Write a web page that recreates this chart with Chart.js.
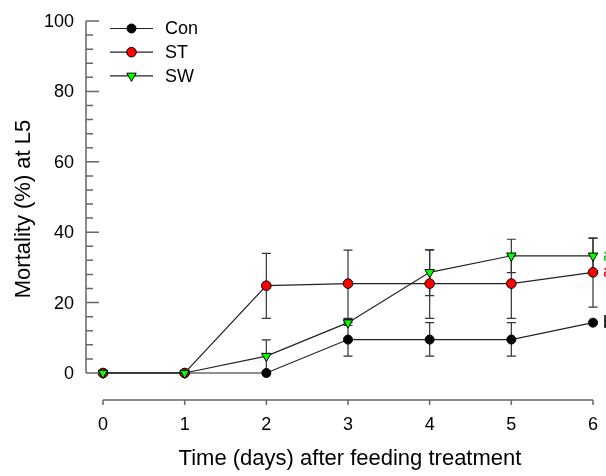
<!DOCTYPE html>
<html>
<head>
<meta charset="utf-8">
<script src="https://cdn.jsdelivr.net/npm/chart.js@4.4.0/dist/chart.umd.min.js"></script>
<style>
  body { margin: 0; background: #fff; }
  #wrap { width: 606px; height: 476px; position: relative; }
</style>
</head>
<body>
<div id="wrap"><canvas id="grafico"></canvas></div>
<script>
// Datos
const dias = [0, 1, 2, 3, 4, 5, 6];
const xTicks = [0, 1, 2, 3, 4, 5, 6];
const yTicks = [0, 20, 40, 60, 80, 100];

const con = [0, 0, 0, 9.5, 9.5, 9.5, 14.3];
const conBajo = [0, 0, 0, 4.8, 4.8, 4.8, 14.3];
const conAlto = [0, 0, 0, 14.3, 14.3, 14.3, 14.3];

const st = [0, 0, 24.8, 25.4, 25.4, 25.4, 28.6];
const stBajo = [0, 0, 15.5, 15.5, 15.5, 15.5, 18.7];
const stAlto = [0, 0, 34, 34.9, 35, 33.3, 38.3];

const sw = [0, 0, 4.8, 14.3, 28.6, 33.3, 33.3];
const swBajo = [0, 0, 0, 13.5, 22, 28.5, 28.5];
const swAlto = [0, 0, 9.4, 15.2, 35, 38, 38.3];

// letras de significancia (cortadas en el borde derecho)
const letras = ["b", "a", "a"];

const fuente = "Arial, 'Liberation Sans', sans-serif";

function puntos(valores) {
  return dias.map((d, i) => ({ x: d, y: valores[i] }));
}

const series = [
  { label: "Con", data: con, bajo: conBajo, alto: conAlto, color: "#000000", estilo: "circle", rot: 0, radio: 4.5, letraColor: "#000000", orden: 2 },
  { label: "ST", data: st, bajo: stBajo, alto: stAlto, color: "#ff0000", estilo: "circle", rot: 0, radio: 4.8, letraColor: "#ff0000", orden: 1 },
  { label: "SW", data: sw, bajo: swBajo, alto: swAlto, color: "#00ff00", estilo: "triangle", rot: 180, radio: 5.5, letraColor: "#00cc00", orden: 0 },
];

// Barras de error
const barrasError = {
  id: "barrasError",
  beforeDatasetsDraw(chart) {
    const { ctx, scales: { x, y } } = chart;
    ctx.save();
    ctx.strokeStyle = "#333";
    ctx.lineWidth = 1.2;
    series.forEach((s) => {
      dias.forEach((d, i) => {
        if (s.alto[i] === s.bajo[i]) return;
        const px = x.getPixelForValue(d);
        const y1 = y.getPixelForValue(s.alto[i]);
        const y2 = y.getPixelForValue(s.bajo[i]);
        ctx.beginPath();
        ctx.moveTo(px, y1); ctx.lineTo(px, y2);
        if (s.alto[i] !== s.data[i]) { ctx.moveTo(px - 4.5, y1); ctx.lineTo(px + 4.5, y1); }
        if (s.bajo[i] !== s.data[i]) { ctx.moveTo(px - 4.5, y2); ctx.lineTo(px + 4.5, y2); }
        ctx.stroke();
      });
    });
    ctx.restore();
  },
};

// Ejes separados, titulos, leyenda y letras
const ejes = {
  id: "ejes",
  afterDraw(chart) {
    const { ctx, scales: { x, y } } = chart;
    ctx.save();
    const ejeX = x.getPixelForValue(0) - 17;
    const ejeY = y.getPixelForValue(0) + 27;
    ctx.strokeStyle = "#666";
    ctx.lineWidth = 1.5;

    // eje Y
    ctx.beginPath();
    ctx.moveTo(ejeX, y.getPixelForValue(100));
    ctx.lineTo(ejeX, y.getPixelForValue(0));
    for (let v = 0; v <= 100; v += 4) {
      const py = y.getPixelForValue(v);
      const largo = v % 20 === 0 ? 13 : 7;
      ctx.moveTo(ejeX, py); ctx.lineTo(ejeX + largo, py);
    }
    ctx.stroke();

    // eje X
    ctx.beginPath();
    ctx.moveTo(x.getPixelForValue(0), ejeY);
    ctx.lineTo(x.getPixelForValue(6), ejeY);
    xTicks.forEach((t) => {
      const px = x.getPixelForValue(t);
      ctx.moveTo(px, ejeY); ctx.lineTo(px, ejeY + 5);
    });
    ctx.stroke();

    ctx.fillStyle = "#000";
    ctx.font = "18px " + fuente;
    ctx.textAlign = "right";
    ctx.textBaseline = "middle";
    yTicks.forEach((t) => ctx.fillText(String(t), ejeX - 12, y.getPixelForValue(t) + 1));
    ctx.textAlign = "center";
    xTicks.forEach((t) => ctx.fillText(String(t), x.getPixelForValue(t), ejeY + 25));

    ctx.font = "22px " + fuente;
    ctx.fillText("Time (days) after feeding treatment", (x.left + x.right) / 2 + 2, ejeY + 59);
    ctx.save();
    ctx.translate(29.5, y.getPixelForValue(50) + 12);
    ctx.rotate(-Math.PI / 2);
    ctx.textBaseline = "alphabetic";
    ctx.fillText("Mortality (%) at L5", 0, 0);
    ctx.restore();

    // leyenda
    ctx.font = "18px " + fuente;
    ctx.textAlign = "left";
    series.forEach((s, i) => {
      const ly = 28.5 + i * 23.7;
      ctx.strokeStyle = "#222";
      ctx.lineWidth = 1.2;
      ctx.beginPath();
      ctx.moveTo(110, ly); ctx.lineTo(153, ly);
      ctx.stroke();
      ctx.fillStyle = s.color;
      ctx.strokeStyle = "#000";
      ctx.lineWidth = 1;
      Chart.helpers.drawPoint(ctx, {
        pointStyle: s.estilo, radius: s.radio, rotation: s.rot, borderWidth: 1,
      }, 131.5, ly);
      ctx.fillStyle = "#000";
      ctx.fillText(s.label, 165, ly + 1);
    });

    // letras de significancia
    series.forEach((s, i) => {
      ctx.fillStyle = s.letraColor;
      ctx.fillText(letras[i], x.getPixelForValue(6) + 10, y.getPixelForValue(s.data[6]));
    });
    ctx.restore();
  },
};

new Chart(document.getElementById("grafico").getContext("2d"), {
  type: "line",
  data: {
    datasets: series.map((s) => ({
      label: s.label,
      data: puntos(s.data),
      order: s.orden,
      borderColor: "#222",
      borderWidth: 1.2,
      backgroundColor: s.color,
      pointBackgroundColor: s.color,
      pointBorderColor: "#000",
      pointBorderWidth: 1,
      pointStyle: s.estilo,
      pointRotation: s.rot,
      pointRadius: s.radio,
      tension: 0,
      clip: false,
    })),
  },
  options: {
    responsive: true,
    maintainAspectRatio: false,
    animation: false,
    layout: { padding: { left: 103, right: 13, top: 21, bottom: 103 } },
    plugins: { legend: { display: false }, tooltip: { enabled: false } },
    scales: {
      x: { type: "linear", min: 0, max: 6, display: false },
      y: { type: "linear", min: 0, max: 100, display: false },
    },
  },
  plugins: [barrasError, ejes],
});
</script>
</body>
</html>
